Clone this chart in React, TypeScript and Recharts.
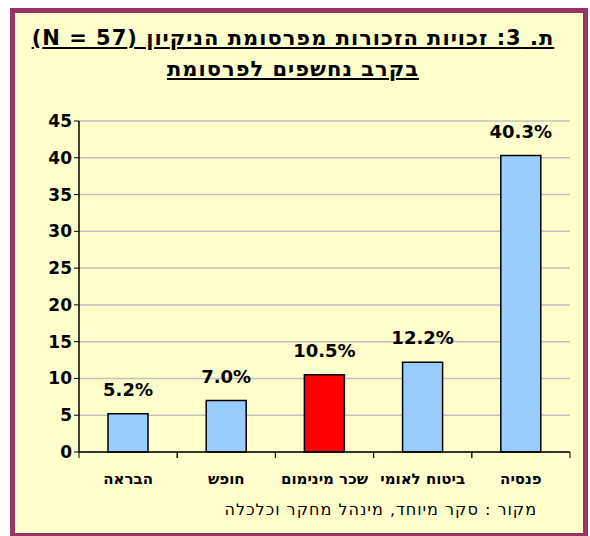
import { BarChart, Bar, XAxis, YAxis, CartesianGrid, Cell, LabelList } from 'recharts';

const categories = ['הבראה', 'חופש', 'שכר מינימום', 'ביטוח לאומי', 'פנסיה'];
const values = [5.2, 7.0, 10.5, 12.2, 40.3];
const highlighted = 'שכר מינימום';
const yTicks = [0, 5, 10, 15, 20, 25, 30, 35, 40, 45];

const titleLines = ['ת. 3: זכויות הזכורות מפרסומת הניקיון (N = 57)', 'בקרב נחשפים לפרסומת'];
const sourceText = 'מקור : סקר מיוחד, מינהל מחקר וכלכלה';

const FONT = '"DejaVu Sans", Arial, sans-serif';
const BAND = 98.2;

const data = categories.map((name, i) => ({ name, value: values[i] }));

function CategoryTick({ x, y, payload }: any) {
  return (
    <g>
      <line x1={x - BAND / 2} y1={y - 8} x2={x - BAND / 2} y2={y - 2} stroke="#000" strokeWidth={1} />
      <line x1={x + BAND / 2} y1={y - 8} x2={x + BAND / 2} y2={y - 2} stroke="#000" strokeWidth={1} />
      <text x={x} y={y + 24} textAnchor="middle" fontFamily={FONT} fontSize={15} fontWeight="bold" fill="#000">
        {payload.value}
      </text>
    </g>
  );
}

export default function App() {
  return (
    <div style={{ position: 'absolute', left: 0, top: 0, width: 590, height: 536, background: '#fff' }}>
      <div
        style={{
          position: 'absolute',
          left: 10,
          top: 8,
          width: 578,
          height: 530,
          boxSizing: 'border-box',
          border: '5px solid #993366',
          background: '#FFFFCC',
        }}
      />
      <div
        dir="rtl"
        style={{
          position: 'absolute',
          left: 0,
          top: 23,
          width: 586,
          textAlign: 'center',
          fontFamily: FONT,
          fontWeight: 'bold',
          fontSize: 21,
          letterSpacing: 1,
          lineHeight: '31px',
          textDecoration: 'underline',
          color: '#000',
        }}
      >
        {titleLines.map((t) => (
          <div key={t}>{t}</div>
        ))}
      </div>
      <BarChart
        width={590}
        height={536}
        data={data}
        margin={{ top: 121, right: 20, bottom: 54, left: 39 }}
        style={{ position: 'absolute', left: 0, top: 0 }}
      >
        <CartesianGrid vertical={false} stroke="#C0C0C0" strokeWidth={1.5} />
        <XAxis
          dataKey="name"
          axisLine={{ stroke: '#000', strokeWidth: 1.5 }}
          tickLine={false}
          tick={<CategoryTick />}
          height={30}
          interval={0}
        />
        <YAxis
          domain={[0, 45]}
          ticks={yTicks}
          width={40}
          axisLine={{ stroke: '#000', strokeWidth: 1.5 }}
          tickLine={{ stroke: '#000' }}
          tickSize={5}
          tick={{ fill: '#000', fontFamily: FONT, fontSize: 17, fontWeight: 'bold' }}
          interval={0}
        />
        <Bar dataKey="value" barSize={40} stroke="#000" strokeWidth={1.5} isAnimationActive={false}>
          {data.map((d) => (
            <Cell key={d.name} fill={d.name === highlighted ? '#FF0000' : '#99CCFF'} />
          ))}
          <LabelList
            dataKey="value"
            position="top"
            offset={18}
            formatter={(v: any) => `${Number(v).toFixed(1)}%`}
            style={{ fill: '#000', fontFamily: FONT, fontSize: 18, fontWeight: 'bold' }}
          />
        </Bar>
      </BarChart>
      <div
        dir="rtl"
        style={{
          position: 'absolute',
          right: 53,
          top: 500,
          fontFamily: FONT,
          fontSize: 16,
          letterSpacing: 1,
          color: '#000',
          whiteSpace: 'nowrap',
        }}
      >
        {sourceText}
      </div>
    </div>
  );
}
